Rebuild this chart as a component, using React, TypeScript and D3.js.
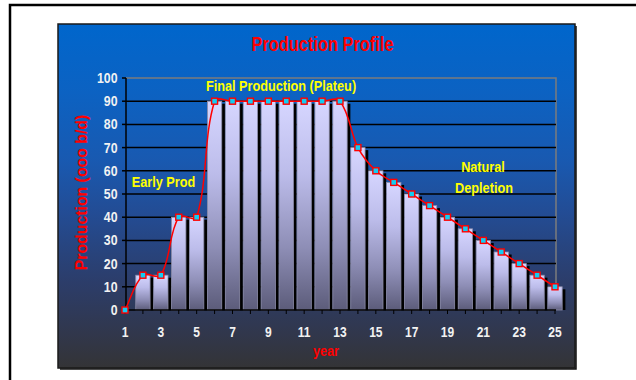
import React from "react";
import * as d3 from "d3";

// Yearly production (thousand barrels per day)
const years = [1, 2, 3, 4, 5, 6, 7, 8, 9, 10, 11, 12, 13, 14, 15, 16, 17, 18, 19, 20, 21, 22, 23, 24, 25];
const production = [0, 15, 15, 40, 40, 90, 90, 90, 90, 90, 90, 90, 90, 70, 60, 55, 50, 45, 40, 35, 30, 25, 20, 15, 10];
const yTicks = [0, 10, 20, 30, 40, 50, 60, 70, 80, 90, 100];
const xTickLabels = [1, 3, 5, 7, 9, 11, 13, 15, 17, 19, 21, 23, 25];
const gridValues = [10, 20, 30, 40, 50, 60, 70, 80, 90];

const W = 636;
const H = 380;
const FONT = "'Liberation Sans', Arial, Helvetica, sans-serif";

const panel = { x: 58, y: 24, w: 517, h: 344 };
const plot = { left: 126, right: 556, top: 78, bottom: 310 };

type Pt = [number, number];

// Spreadsheet-style smoothed line: cubic Bezier segments whose control arms
// point along the neighbour-to-neighbour direction, with length proportional
// to the segment's own chord.
function smoothPath(pts: Pt[], s = 0.33): string {
  const p = d3.path();
  const n = pts.length;
  const dist = (a: Pt, b: Pt) => Math.hypot(b[0] - a[0], b[1] - a[1]);
  const dir = (i: number): Pt => {
    const a = pts[Math.max(0, i - 1)];
    const b = pts[Math.min(n - 1, i + 1)];
    const len = dist(a, b) || 1;
    return [(b[0] - a[0]) / len, (b[1] - a[1]) / len];
  };
  p.moveTo(pts[0][0], pts[0][1]);
  for (let i = 0; i < n - 1; i++) {
    const a = pts[i];
    const b = pts[i + 1];
    const arm = s * dist(a, b);
    const ua = dir(i);
    const ub = dir(i + 1);
    p.bezierCurveTo(a[0] + ua[0] * arm, a[1] + ua[1] * arm, b[0] - ub[0] * arm, b[1] - ub[1] * arm, b[0], b[1]);
  }
  return p.toString();
}

type LabelProps = {
  x: number;
  y: number;
  size: number;
  fill: string;
  sx?: number;
  rotate?: number;
  anchor?: "start" | "middle" | "end";
  children: React.ReactNode;
};

// Bold condensed text: Arial Narrow look made from Liberation Sans scaled horizontally
function Label({ x, y, size, fill, sx = 0.82, rotate = 0, anchor = "middle", children }: LabelProps) {
  return (
    <text
      transform={`translate(${x},${y}) rotate(${rotate}) scale(${sx},1)`}
      fontFamily={FONT}
      fontWeight="bold"
      fontSize={size}
      fill={fill}
      textAnchor={anchor}
    >
      {children}
    </text>
  );
}

export default function App() {
  const x = d3.scalePoint<number>().domain(years).range([125, 555]);
  const y = d3.scaleLinear().domain([0, 100]).range([plot.bottom, plot.top]);

  const step = x.step();
  const barW = step * 0.8;

  const data = years.map((yr, i) => ({ year: yr, value: production[i] }));
  const linePath = smoothPath(data.map((d) => [x(d.year) as number, y(d.value)] as Pt));

  return (
    <svg
      width={W}
      height={H}
      viewBox={`0 0 ${W} ${H}`}
      style={{ position: "absolute", left: 0, top: 0, display: "block", background: "#fff" }}
    >
      <defs>
        <linearGradient id="panelBg" x1="0" y1="0" x2="0" y2="1">
          <stop offset="0" stopColor="#0066CC" />
          <stop offset="0.2" stopColor="#0C62C2" />
          <stop offset="0.4" stopColor="#1959B0" />
          <stop offset="0.55" stopColor="#234C94" />
          <stop offset="0.75" stopColor="#2C3D6A" />
          <stop offset="0.9" stopColor="#31374C" />
          <stop offset="1" stopColor="#343436" />
        </linearGradient>
        <linearGradient id="barFill" x1="0" y1="0" x2="0" y2="1">
          <stop offset="0" stopColor="#D6D6FF" />
          <stop offset="0.35" stopColor="#BCBCEA" />
          <stop offset="0.7" stopColor="#8E8EB6" />
          <stop offset="1" stopColor="#5C5C7A" />
        </linearGradient>
      </defs>

      {/* outer frame */}
      <path d={`M10,${H + 5} V5 H${W + 5}`} fill="none" stroke="#000" strokeWidth={2.5} />

      {/* chart panel */}
      <rect x={panel.x} y={panel.y} width={panel.w} height={panel.h} fill="url(#panelBg)" stroke="#1a1a1a" strokeWidth={1.5} />
      <path
        d={`M${panel.x + panel.w + 1},${panel.y + 2} V${panel.y + panel.h + 1} H${panel.x + 2}`}
        fill="none"
        stroke="#111"
        strokeWidth={1.5}
      />

      {/* title */}
      <Label x={322.5} y={50.5} size={20.5} fill="#FF0000" sx={0.8}>
        Production Profile
      </Label>

      {/* plot area border */}
      <path d={`M${plot.left},${plot.top} H${plot.right} V${plot.bottom}`} fill="none" stroke="#7c7c7c" strokeWidth={1.5} />

      {/* horizontal gridlines */}
      {gridValues.map((v) => (
        <line key={v} x1={plot.left} x2={plot.right} y1={y(v)} y2={y(v)} stroke="#000" strokeWidth={1.5} />
      ))}

      {/* bars with drop shadow */}
      {data
        .filter((d) => d.value > 0)
        .map((d) => {
          const cx = x(d.year) as number;
          const top = y(d.value);
          return (
            <g key={d.year}>
              <rect x={cx - barW / 2 + 3.2} y={top + 2.5} width={barW} height={plot.bottom - top - 2.5} fill="#000" />
              <rect
                x={cx - barW / 2}
                y={top}
                width={barW}
                height={plot.bottom - top}
                fill="url(#barFill)"
                stroke="#8C8CA8"
                strokeWidth={0.8}
              />
            </g>
          );
        })}

      {/* y axis */}
      <line x1={plot.left} x2={plot.left} y1={plot.top} y2={plot.bottom} stroke="#000" strokeWidth={1.5} />
      {yTicks.map((t) => (
        <g key={t}>
          <line x1={plot.left - 4} x2={plot.left} y1={y(t)} y2={y(t)} stroke="#000" strokeWidth={1.5} />
          <Label x={117.5} y={y(t) + 5} size={14} fill="#F2F2F2" sx={0.88} anchor="end">
            {t}
          </Label>
        </g>
      ))}

      {/* x axis */}
      <line x1={125} x2={plot.right} y1={plot.bottom} y2={plot.bottom} stroke="#000" strokeWidth={1.5} />
      {years.map((yr) => (
        <line
          key={yr}
          x1={x(yr) as number}
          x2={x(yr) as number}
          y1={plot.bottom}
          y2={plot.bottom + 4}
          stroke="#000"
          strokeWidth={1}
        />
      ))}
      {xTickLabels.map((yr) => (
        <Label key={yr} x={x(yr) as number} y={337} size={14} fill="#F2F2F2" sx={0.86}>
          {yr}
        </Label>
      ))}

      {/* smoothed production line with markers */}
      <path d={linePath} fill="none" stroke="#FF0000" strokeWidth={1.5} />
      {data.map((d) => (
        <rect
          key={d.year}
          x={(x(d.year) as number) - 3}
          y={y(d.value) - 3}
          width={6}
          height={6}
          fill="#14CCF2"
          stroke="#FF0000"
          strokeWidth={1.4}
        />
      ))}

      {/* phase annotations */}
      <Label x={281} y={90.5} size={15.5} fill="#FFFF00">
        Final Production (Plateu)
      </Label>
      <Label x={163.5} y={187.3} size={15.5} fill="#FFFF00">
        Early Prod
      </Label>
      <Label x={483} y={171.5} size={15.5} fill="#FFFF00">
        Natural
      </Label>
      <Label x={484} y={193.3} size={15.5} fill="#FFFF00">
        Depletion
      </Label>

      {/* axis titles */}
      <Label x={326} y={355.5} size={15.5} fill="#FF0000">
        year
      </Label>
      <Label x={87} y={192.5} size={16} fill="#FF0000" sx={0.99} rotate={-90}>
        Production (ooo b/d)
      </Label>
    </svg>
  );
}
